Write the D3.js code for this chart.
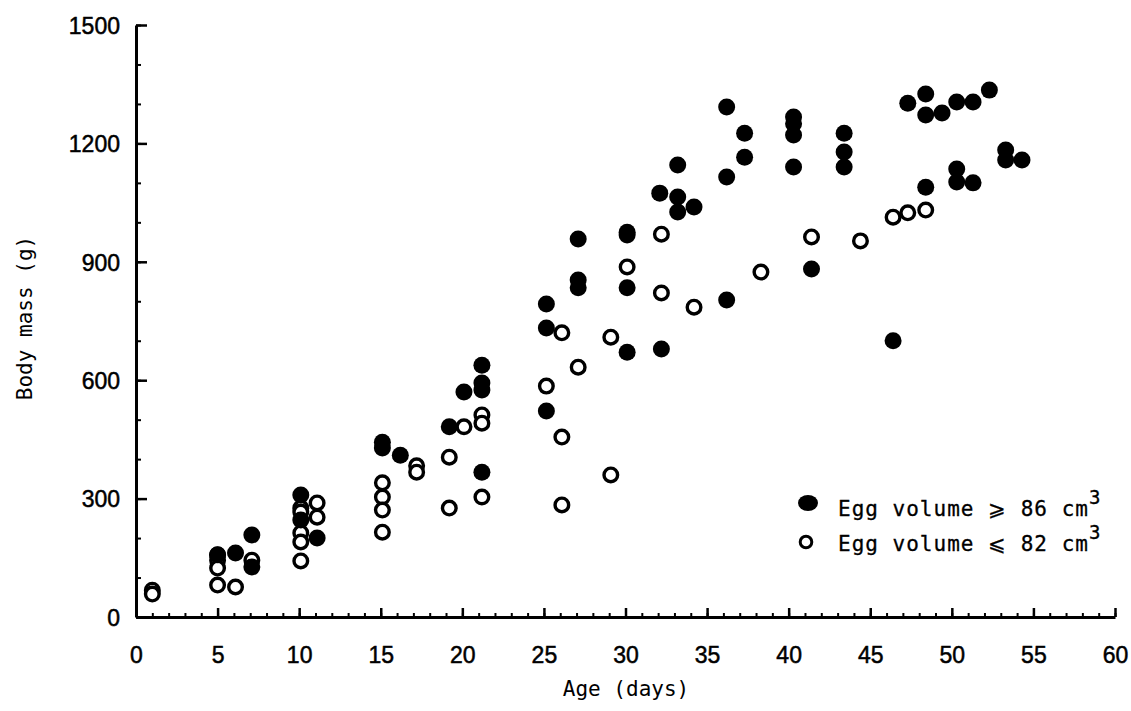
<!DOCTYPE html>
<html>
<head>
<meta charset="utf-8">
<script src="https://cdn.jsdelivr.net/npm/d3@7"></script>
<style>
  html, body { margin: 0; padding: 0; background: #fff; }
  svg { display: block; }
  .tick-label { font-family: "Liberation Sans", Arial, sans-serif; font-size: 23px; fill: #000; stroke: #000; stroke-width: 0.5px; }
  .title { font-family: "DejaVu Sans Mono", monospace; font-size: 21px; fill: #000; }
  .legend-text { font-family: "DejaVu Sans Mono", monospace; font-size: 21px; fill: #000; letter-spacing: 1px; stroke: #000; stroke-width: 0.3px; }
</style>
</head>
<body>
<svg id="chart" width="1131" height="711"></svg>
<script>
// Chick body mass by age, split by egg volume
const largeEggAge  = [5.0, 6.1, 7.1, 7.1, 10.1, 10.1, 11.1, 15.1, 15.1, 16.2, 19.2, 20.1, 21.2, 21.2, 21.2, 21.2,
                      25.15, 25.15, 25.15, 27.1, 27.1, 27.1, 30.1, 30.1, 30.1, 30.1, 32.2, 32.1, 33.2, 33.2, 33.2, 34.2,
                      36.2, 36.2, 36.2, 37.3, 37.3, 40.3, 40.3, 40.3, 40.3, 41.4, 43.4, 43.4, 43.4, 46.4,
                      47.3, 48.4, 48.4, 49.4, 50.3, 51.3, 52.3, 48.4, 50.3, 50.3, 51.3, 53.3, 53.3, 54.3];
const largeEggMass = [158, 162, 208, 127, 309, 246, 200, 443, 428, 410, 482, 570, 638, 593, 575, 367,
                      793, 732, 522, 958, 854, 834, 975, 968, 834, 671, 679, 1074, 1064, 1026, 1145, 1039,
                      803, 1292, 1115, 1226, 1165, 1267, 1250, 1221, 1140, 882, 1226, 1178, 1140, 700,
                      1302, 1325, 1272, 1277, 1305, 1305, 1335, 1089, 1135, 1102, 1100, 1183, 1158, 1158];

const smallEggAge  = [1.0, 1.0, 5.0, 5.0, 5.0, 5.0, 6.1, 7.1, 10.1, 10.1, 10.1, 10.1, 10.1, 11.1, 11.1,
                      15.1, 15.1, 15.1, 15.1, 17.2, 17.2, 19.2, 19.2, 20.1, 21.2, 21.2, 21.2,
                      26.1, 26.1, 26.1, 25.15, 27.1, 29.1, 29.1, 30.1, 32.2, 32.2, 34.2, 38.3, 41.4, 44.4,
                      46.4, 47.3, 48.4];
const smallEggMass = [68, 58, 157, 144, 124, 81, 76, 144, 276, 266, 213, 190, 142, 289, 253,
                      340, 304, 271, 215, 383, 367, 405, 276, 482, 512, 491, 304,
                      720, 456, 284, 585, 633, 709, 360, 887, 970, 821, 785, 874, 963, 953,
                      1013, 1024, 1031];

const xTickValues = [0, 5, 10, 15, 20, 25, 30, 35, 40, 45, 50, 55, 60];
const yTickValues = [0, 300, 600, 900, 1200, 1500];
const legendLabels = ["Egg volume \u2A7E 86 cm", "Egg volume \u2A7D 82 cm"];

const svg = d3.select("#chart");
const plotLeft = 136, plotRight = 1115, plotTop = 25, plotBottom = 617;

const x = d3.scaleLinear().domain([0, 60]).range([plotLeft, plotRight]);
const y = d3.scaleLinear().domain([0, 1500]).range([plotBottom, plotTop]);
const plain = d3.format("d");

// minor ticks, every day / every 100 g
svg.append("g")
  .attr("transform", `translate(0,${plotBottom})`)
  .call(d3.axisBottom(x).tickValues(d3.range(0, 61, 1)).tickSizeInner(-4).tickSizeOuter(0).tickFormat(""))
  .call(g => g.select(".domain").remove())
  .call(g => g.selectAll("line").attr("stroke", "#000").attr("stroke-width", 2));
svg.append("g")
  .attr("transform", `translate(${plotLeft},0)`)
  .call(d3.axisLeft(y).tickValues(d3.range(0, 1501, 100)).tickSizeInner(-5).tickSizeOuter(0).tickFormat(""))
  .call(g => g.select(".domain").remove())
  .call(g => g.selectAll("line").attr("stroke", "#000").attr("stroke-width", 2));

// major ticks with labels
const xAxis = svg.append("g")
  .attr("transform", `translate(0,${plotBottom})`)
  .call(d3.axisBottom(x).tickValues(xTickValues).tickFormat(plain).tickSizeInner(-9).tickSizeOuter(0).tickPadding(0));
xAxis.select(".domain").attr("stroke", "#000").attr("stroke-width", 3);
xAxis.selectAll("line").attr("stroke", "#000").attr("stroke-width", 2.5);
xAxis.selectAll("text").attr("class", "tick-label").attr("y", 46).attr("dy", null);

const yAxis = svg.append("g")
  .attr("transform", `translate(${plotLeft},0)`)
  .call(d3.axisLeft(y).tickValues(yTickValues).tickFormat(plain).tickSizeInner(-11).tickSizeOuter(0).tickPadding(0));
yAxis.select(".domain").attr("stroke", "#000").attr("stroke-width", 3);
yAxis.selectAll("line").attr("stroke", "#000").attr("stroke-width", 2.5);
yAxis.selectAll("text").attr("class", "tick-label").attr("x", -16).attr("dy", "0.36em");

// let the stylesheet drive tick fonts
svg.selectAll("g[font-family]").attr("font-family", null).attr("font-size", null);

// axis titles
svg.append("text").attr("class", "title")
  .attr("x", 626).attr("y", 696).attr("text-anchor", "middle")
  .text("Age (days)");
svg.append("text").attr("class", "title")
  .attr("transform", "translate(32,318) rotate(-90)").attr("text-anchor", "middle")
  .text("Body mass (g)");

// points
const small = smallEggAge.map((d, i) => ({ age: d, mass: smallEggMass[i] }));
const large = largeEggAge.map((d, i) => ({ age: d, mass: largeEggMass[i] }));

svg.append("g").selectAll("circle").data(small).join("circle")
  .attr("cx", d => x(d.age)).attr("cy", d => y(d.mass)).attr("r", 6.8)
  .attr("fill", "#fff").attr("stroke", "#000").attr("stroke-width", 3.4);

svg.append("g").selectAll("circle").data(large).join("circle")
  .attr("cx", d => x(d.age)).attr("cy", d => y(d.mass)).attr("r", 8.5)
  .attr("fill", "#000");

// legend
const legend = svg.append("g");
legend.append("ellipse").attr("cx", 808).attr("cy", 503).attr("rx", 10).attr("ry", 8).attr("fill", "#000");
legend.append("circle").attr("cx", 806).attr("cy", 542).attr("r", 5.8)
  .attr("fill", "#fff").attr("stroke", "#000").attr("stroke-width", 3);
legendLabels.forEach((t, i) => {
  const txt = legend.append("text").attr("class", "legend-text")
    .attr("x", 838).attr("y", 516 + i * 35);
  txt.append("tspan").text(t);
  txt.append("tspan").attr("dy", -12).attr("font-size", 19).text("3");
});
</script>
</body>
</html>
